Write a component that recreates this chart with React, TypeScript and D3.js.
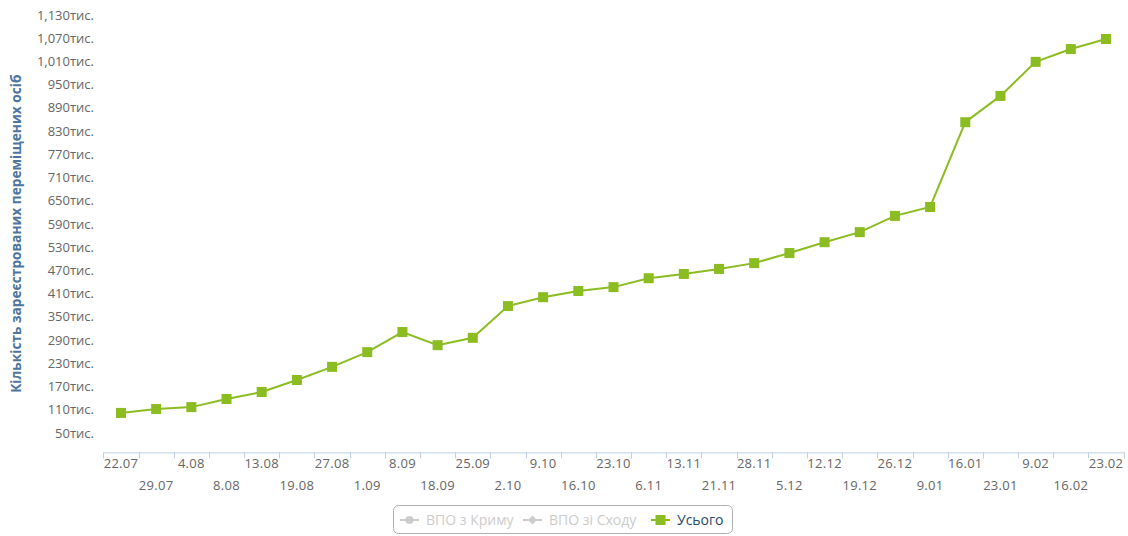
import React, { useEffect, useRef } from "react";
import * as d3 from "d3";

// dates of the weekly reports
const categories = [
  "22.07", "29.07", "4.08", "8.08", "13.08", "19.08", "27.08", "1.09", "8.09", "18.09",
  "25.09", "2.10", "9.10", "16.10", "23.10", "6.11", "13.11", "21.11", "28.11", "5.12",
  "12.12", "19.12", "26.12", "9.01", "16.01", "23.01", "9.02", "16.02", "23.02",
];

// "Усього", thousands of people
const totalValues = [
  102, 112, 117, 138, 156, 187, 221, 259, 311, 277,
  296, 378, 401, 417, 427, 450, 461, 474, 489, 515,
  543, 569, 611, 634, 853, 921, 1009, 1042, 1068,
];

const yTicks = [50, 110, 170, 230, 290, 350, 410, 470, 530, 590, 650, 710, 770, 830, 890, 950, 1010, 1070, 1130];

const legendItems = ["ВПО з Криму", "ВПО зі Сходу", "Усього"];

const W = 1128;
const H = 536;
const FONT = "'Open Sans', 'DejaVu Sans', sans-serif";

export default function App() {
  const ref = useRef<SVGSVGElement>(null);

  useEffect(() => {
    const svg = d3.select(ref.current);
    svg.selectAll("*").remove();

    const plotLeft = 103.4;
    const plotRight = 1123.6;
    const plotBottom = 452.4;

    const x = d3.scaleBand<string>().domain(categories).range([plotLeft, plotRight]).padding(0);
    const cx = (c: string) => (x(c) as number) + x.bandwidth() / 2;
    const y = d3.scaleLinear().domain([0, 1130]).range([plotBottom, 15]);

    // y axis labels
    svg
      .append("g")
      .selectAll("text")
      .data(yTicks)
      .enter()
      .append("text")
      .attr("x", 94)
      .attr("y", (d) => y(d))
      .attr("dy", "0.35em")
      .attr("text-anchor", "end")
      .attr("font-family", FONT)
      .attr("font-size", 13)
      .attr("fill", "#666")
      .text((d) => d3.format(",")(d) + "тис.");

    // y axis title
    svg
      .append("text")
      .attr("transform", `translate(21, ${(plotBottom + 15) / 2}) rotate(-90)`)
      .attr("text-anchor", "middle")
      .attr("font-family", FONT)
      .attr("font-size", 13.7)
      .attr("font-weight", "bold")
      .attr("fill", "#4d759e")
      .text("Кількість зареєстрованих переміщених осіб");

    // x axis
    const xg = svg.append("g");
    xg.append("line")
      .attr("x1", plotLeft)
      .attr("x2", plotRight + 1)
      .attr("y1", plotBottom + 0.5)
      .attr("y2", plotBottom + 0.5)
      .attr("stroke", "#C0D0E0");
    const bounds = categories.map((c) => x(c) as number).concat([plotRight]);
    xg.selectAll(".tick")
      .data(bounds)
      .enter()
      .append("line")
      .attr("class", "tick")
      .attr("x1", (d) => Math.round(d) + 0.5)
      .attr("x2", (d) => Math.round(d) + 0.5)
      .attr("y1", plotBottom)
      .attr("y2", plotBottom + 6)
      .attr("stroke", "#C0D0E0");
    xg.selectAll(".lbl")
      .data(categories)
      .enter()
      .append("text")
      .attr("class", "lbl")
      .attr("x", (d) => cx(d))
      .attr("y", (d, i) => (i % 2 === 0 ? 468 : 490))
      .attr("text-anchor", "middle")
      .attr("font-family", FONT)
      .attr("font-size", 13)
      .attr("letter-spacing", 0.3)
      .attr("fill", "#666")
      .text((d) => d);

    // line + markers
    const line = d3
      .line<number>()
      .x((d, i) => cx(categories[i]))
      .y((d) => y(d));
    svg
      .append("path")
      .datum(totalValues)
      .attr("d", line)
      .attr("fill", "none")
      .attr("stroke", "#8bbc21")
      .attr("stroke-width", 2);
    svg
      .append("g")
      .selectAll("rect")
      .data(totalValues)
      .enter()
      .append("rect")
      .attr("x", (d, i) => cx(categories[i]) - 5)
      .attr("y", (d) => y(d) - 5)
      .attr("width", 10)
      .attr("height", 10)
      .attr("fill", "#8bbc21");

    // legend
    const lg = svg.append("g");
    lg.append("rect")
      .attr("x", 393.5)
      .attr("y", 505.5)
      .attr("width", 339)
      .attr("height", 28)
      .attr("rx", 5)
      .attr("fill", "#fff")
      .attr("stroke", "#b0b0b0");
    const itemX = [400, 523, 651];
    const ly = 520;
    legendItems.forEach((name, i) => {
      const hidden = i < 2;
      const col = hidden ? "#ccc" : "#8bbc21";
      const x0 = itemX[i];
      lg.append("line")
        .attr("x1", x0)
        .attr("x2", x0 + 19)
        .attr("y1", ly)
        .attr("y2", ly)
        .attr("stroke", col)
        .attr("stroke-width", 2);
      if (i === 0) {
        lg.append("circle").attr("cx", x0 + 9.5).attr("cy", ly).attr("r", 4).attr("fill", col);
      } else if (i === 1) {
        lg.append("path")
          .attr("d", `M${x0 + 9.5},${ly - 4.5}L${x0 + 14},${ly}L${x0 + 9.5},${ly + 4.5}L${x0 + 5},${ly}Z`)
          .attr("fill", col);
      } else {
        lg.append("rect").attr("x", x0 + 4.5).attr("y", ly - 5).attr("width", 10).attr("height", 10).attr("fill", col);
      }
      lg.append("text")
        .attr("x", x0 + 26)
        .attr("y", ly)
        .attr("dy", "0.35em")
        .attr("font-family", FONT)
        .attr("font-size", 14)
        .attr("fill", hidden ? "#ccc" : "#274b6d")
        .text(name);
    });
  }, []);

  return (
    <svg
      ref={ref}
      width={W}
      height={H}
      style={{ position: "absolute", left: 0, top: 0, background: "#fff" }}
    />
  );
}
